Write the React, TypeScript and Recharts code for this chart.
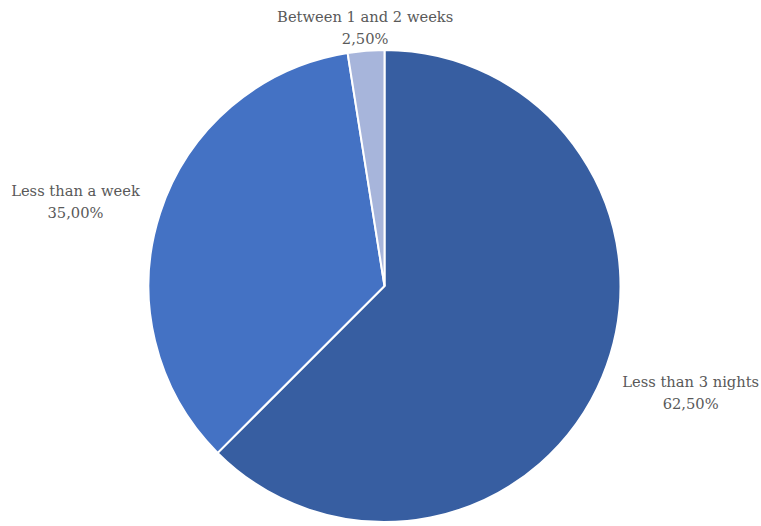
import { PieChart, Pie, Cell } from 'recharts'

const categories = ['Less than 3 nights', 'Less than a week', 'Between 1 and 2 weeks']
const shares = [62.5, 35.0, 2.5]
const sliceColors = ['#375EA1', '#4472C4', '#A7B5DB']

const data = categories.map((name, i) => ({ name, value: shares[i] }))

const RAD = Math.PI / 180
const FONT = "'DejaVu Serif', serif"
const FONT_SIZE = 14.7

function fmtPct(v: number): string {
  return v.toFixed(2).replace('.', ',') + '%'
}

let ctx: CanvasRenderingContext2D | null = null
function textWidth(s: string): number {
  if (!ctx) ctx = document.createElement('canvas').getContext('2d')
  if (!ctx) return s.length * FONT_SIZE * 0.5
  ctx.font = `${FONT_SIZE}px ${FONT}`
  return ctx.measureText(s).width
}

const SliceLabel = (props: any) => {
  const { cx, cy, midAngle, outerRadius, name, value } = props
  const pct = fmtPct(value)
  const cos = Math.cos(-midAngle * RAD)
  const sin = Math.sin(-midAngle * RAD)
  const w = Math.max(textWidth(name), textWidth(pct))
  let x: number
  let y: number
  if (Math.abs(cos) > 0.3) {
    // side labels: block beside the slice, lines centred on each other
    x = cx + (outerRadius + 17) * cos + Math.sign(cos) * (w / 2 + 4)
    y = cy + (outerRadius + 40) * sin
  } else {
    x = cx + (outerRadius + 10) * cos
    y = cy + (outerRadius + 10) * sin - 14
  }
  return (
    <text x={x} y={y} textAnchor="middle" fill="#595959" fontFamily={FONT} fontSize={FONT_SIZE}>
      <tspan x={x} dy={-5}>{name}</tspan>
      <tspan x={x} dy={22.5}>{pct}</tspan>
    </text>
  )
}

export default function App() {
  return (
    <div style={{ position: 'absolute', left: 0, top: 0, background: '#fff' }}>
      <PieChart width={761} height={526} margin={{ top: 0, right: 0, bottom: 0, left: 0 }}>
        <Pie
          data={data}
          dataKey="value"
          nameKey="name"
          cx={384.5}
          cy={286}
          outerRadius={236}
          startAngle={90}
          endAngle={-270}
          stroke="#ffffff"
          strokeWidth={2}
          label={SliceLabel}
          labelLine={false}
          isAnimationActive={false}
        >
          {data.map((_, i) => (
            <Cell key={i} fill={sliceColors[i]} />
          ))}
        </Pie>
      </PieChart>
    </div>
  )
}
